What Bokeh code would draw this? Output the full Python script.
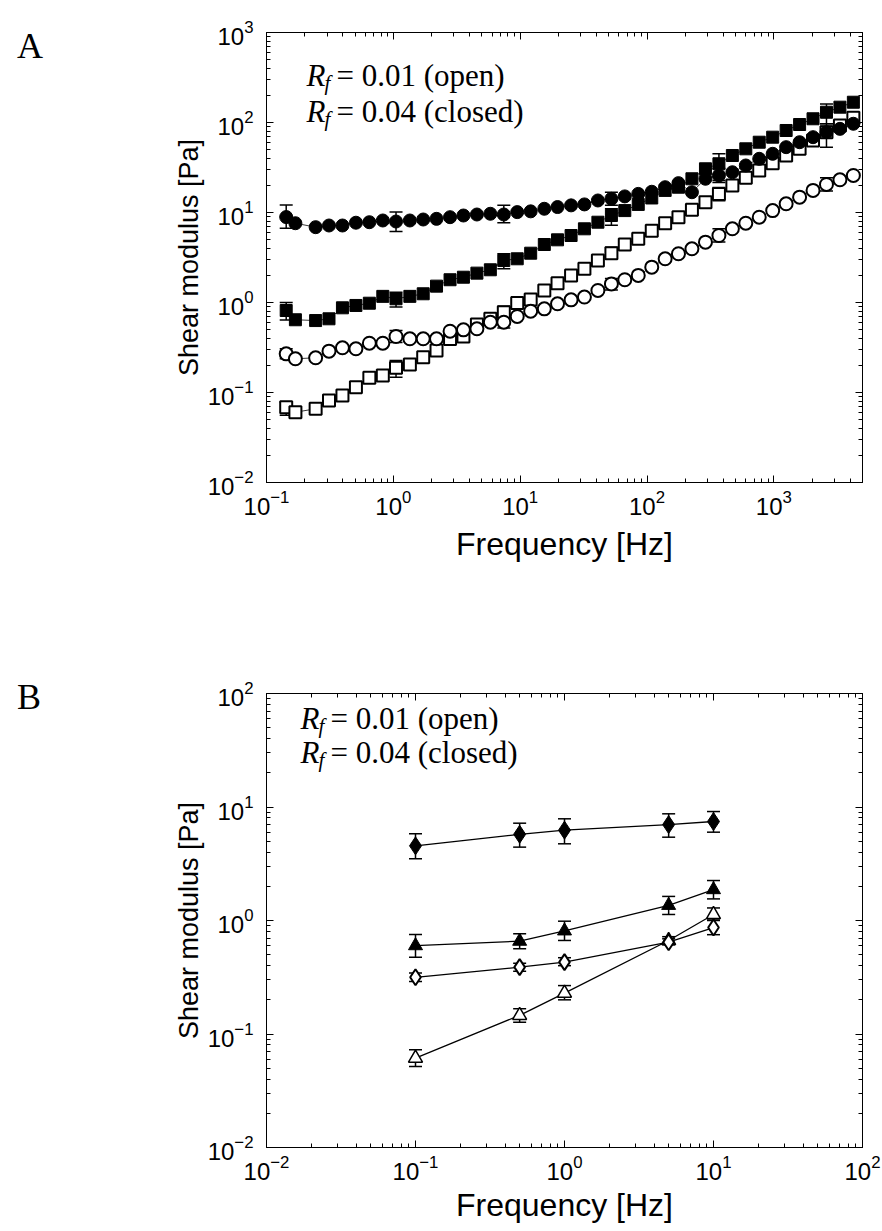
from bokeh.plotting import figure
from bokeh.models import (LogAxis, FixedTicker, Label, Whisker, TeeHead, ColumnDataSource, Range1d,
                          CustomJSTickFormatter, Div)
from bokeh.layouts import column, row
from bokeh.embed import file_html
from bokeh.resources import INLINE

# ---------------- Panel A data ----------------
freq_a = [0.143, 0.169, 0.244, 0.311, 0.397, 0.507, 0.647, 0.826, 1.05, 1.35, 1.72,
          2.19, 2.80, 3.57, 4.56, 5.82, 7.43, 9.48, 12.1, 15.5, 19.7, 25.2, 32.1,
          41.0, 52.4, 66.8, 85.3, 109, 139, 177, 226, 289, 369, 471, 601, 767, 979,
          1250, 1596, 2037, 2600, 3319, 4236]
closed_circle = [8.9, 7.6, 6.87, 7.17, 7.17, 7.7, 7.8, 8.15, 7.94, 8.15, 8.36, 8.5, 8.87,
                 9.26, 9.5, 9.68, 9.5, 10.1, 10.3, 11.0, 11.5, 12.0, 12.3, 13.6, 14.2,
                 15.1, 16.1, 17.0, 19.1, 21.2, 16.8, 23.7, 25.8, 28.0, 33.3, 39.5, 44.9,
                 53.2, 60.4, 68.7, 78, 85, 96.8]
closed_square = [0.815, 0.643, 0.63, 0.659, 0.873, 0.927, 0.982, 1.17, 1.10, 1.17, 1.25,
                 1.52, 1.79, 1.91, 2.12, 2.31, 2.93, 3.06, 3.53, 4.41, 4.97, 5.55, 6.59,
                 7.8, 9.26, 10.5, 12.3, 14.5, 17.6, 19.1, 23.7, 30.6, 34.8, 43, 51, 60.4,
                 68.7, 81.5, 95, 110, 130, 148, 168]
open_circle = [0.269, 0.237, 0.243, 0.288, 0.314, 0.306, 0.353, 0.353, 0.419, 0.395, 0.395,
               0.395, 0.48, 0.497, 0.51, 0.604, 0.604, 0.70, 0.80, 0.85, 0.968, 1.07, 1.15,
               1.36, 1.61, 1.79, 2.0, 2.47, 3.06, 3.48, 3.95, 4.68, 5.55, 6.59, 7.6, 8.87,
               10.5, 12.5, 14.8, 17.6, 20.5, 23.1, 25.8]
open_square = [0.0687, 0.0604, 0.0659, 0.0815, 0.0927, 0.1146, 0.146, 0.154, 0.188, 0.205,
               0.247, 0.293, 0.394, 0.42, 0.57, 0.66, 0.78, 0.99, 1.08, 1.36, 1.64, 2.0,
               2.37, 2.93, 3.53, 4.41, 5.1, 6.25, 7.6, 8.87, 10.7, 13.0, 16.1, 20, 24.3,
               29.3, 35.3, 43, 51, 63, 78, 92.6, 113]

# error bars (panel A) at every eighth point
err_idx_a = [0, 8, 16, 24, 32, 40]
closed_circle_lo = [6.7, 6.15, 7.7, 12.0, 21.6, 67]
closed_circle_hi = [12.1, 10.1, 12.0, 16.8, 30.9, 91]
closed_square_lo = [0.64, 0.89, 2.37, 7.2, 22.7, 97]
closed_square_hi = [1.0, 1.30, 3.48, 11.0, 44.9, 161]
open_circle_lo = [0.237, 0.36, 0.52, 1.38, 4.7, 17.3]
open_circle_hi = [0.306, 0.49, 0.70, 1.85, 6.6, 24.3]
open_square_lo = [0.056, 0.148, 0.67, 3.06, 13.5, 53]
open_square_hi = [0.078, 0.227, 0.91, 4.11, 19.0, 97]

# ---------------- Panel B data ----------------
freq_b = [0.1, 0.5, 1, 5, 10]
closed_diamond = [4.55, 5.75, 6.25, 7.0, 7.45]
closed_diamond_lo = [3.50, 4.43, 4.74, 5.42, 6.0]
closed_diamond_hi = [5.81, 7.2, 7.87, 8.71, 9.12]
closed_triangle = [0.60, 0.657, 0.81, 1.36, 1.87]
closed_triangle_lo = [0.475, 0.564, 0.667, 1.13, 1.55]
closed_triangle_hi = [0.754, 0.764, 0.986, 1.63, 2.25]
open_diamond = [0.316, 0.388, 0.43, 0.644, 0.867]
open_diamond_lo = [0.29, 0.357, 0.40, 0.61, 0.75]
open_diamond_hi = [0.344, 0.42, 0.47, 0.69, 1.0]
open_triangle = [0.0612, 0.146, 0.229, 0.667, 1.13]
open_triangle_lo = [0.0518, 0.127, 0.20, 0.62, 1.01]
open_triangle_hi = [0.0726, 0.167, 0.267, 0.72, 1.29]

x_label = "Frequency [Hz]"
y_label = "Shear modulus [Pa]"
legend_lines = ["= 0.01 (open)", "= 0.04 (closed)"]
panel_letters = ["A", "B"]

SANS = "Liberation Sans"
SERIF = "Liberation Serif"
DIV_W = 60


def decade_ticks(lo_exp, hi_exp):
    major = [10.0 ** e for e in range(lo_exp, hi_exp + 1)]
    minor = [m * 10.0 ** e for e in range(lo_exp, hi_exp + 1) for m in range(2, 10)]
    return major, minor


def make_fig(xr, yr, xexp, yexp, border_top, border_bottom, frame_h, xlab_standoff):
    p = figure(x_axis_type="log", y_axis_type="log",
               x_range=Range1d(*xr), y_range=Range1d(*yr),
               frame_width=596, frame_height=frame_h,
               min_border_left=266 - DIV_W, min_border_right=20,
               min_border_top=border_top, min_border_bottom=border_bottom,
               output_backend="svg", toolbar_location=None)
    hidden = CustomJSTickFormatter(code="return ''")
    p.add_layout(LogAxis(formatter=hidden), "right")
    p.add_layout(LogAxis(formatter=hidden), "above")
    p.grid.visible = False
    p.outline_line_color = "black"
    p.outline_line_width = 1
    p.background_fill_color = "white"
    p.border_fill_color = "white"
    xmaj, xmin = decade_ticks(*xexp)
    ymaj, ymin = decade_ticks(*yexp)
    for ax in p.xaxis:
        ax.ticker = FixedTicker(ticks=xmaj, minor_ticks=xmin)
    for ax in p.yaxis:
        ax.ticker = FixedTicker(ticks=ymaj, minor_ticks=ymin)
    for ax in p.axis:
        ax.major_tick_in = 7
        ax.major_tick_out = 0
        ax.minor_tick_in = 4
        ax.minor_tick_out = 0
        ax.major_tick_line_color = "black"
        ax.minor_tick_line_color = "black"
        ax.axis_line_color = "black"
        ax.major_label_text_font = SANS
        ax.major_label_text_font_size = "24px"
        ax.major_label_text_color = "black"
        ax.axis_label_text_font = SANS
        ax.axis_label_text_font_style = "normal"
        ax.axis_label_text_color = "black"
    for ax in p.right + p.above:
        ax.major_label_text_font_size = "2px"
        ax.major_label_standoff = 0
    p.below[0].axis_label = x_label
    p.below[0].axis_label_text_font_size = "32px"
    p.below[0].major_label_standoff = 7
    p.below[0].axis_label_standoff = xlab_standoff
    p.left[0].axis_label = y_label
    p.left[0].axis_label_text_font_size = "27px"
    p.left[0].major_label_standoff = 13
    p.left[0].axis_label_standoff = 1
    return p


def add_errors(p, xs, lo, hi, cap):
    src = ColumnDataSource(dict(x=xs, lo=lo, hi=hi))
    p.add_layout(Whisker(base="x", lower="lo", upper="hi", source=src, dimension="height",
                         line_color="black", line_width=1.5,
                         upper_head=TeeHead(size=cap, line_width=1.5, line_color="black"),
                         lower_head=TeeHead(size=cap, line_width=1.5, line_color="black")))


def add_legend(p, x, y0, dy):
    for i, txt in enumerate(legend_lines):
        y = y0 - i * dy
        p.add_layout(Label(x=x, y=y, x_units="screen", y_units="screen", text="R",
                           text_font=SERIF, text_font_style="italic", text_font_size="31px",
                           text_baseline="alphabetic", text_color="black"))
        p.add_layout(Label(x=x + 18, y=y - 7, x_units="screen", y_units="screen", text="f",
                           text_font=SERIF, text_font_style="italic", text_font_size="21px",
                           text_baseline="alphabetic", text_color="black"))
        p.add_layout(Label(x=x + 30, y=y, x_units="screen", y_units="screen", text=txt,
                           text_font=SERIF, text_font_size="31px",
                           text_baseline="alphabetic", text_color="black"))


def letter_div(letter, height, top):
    html = ('<div style="font-family: \'Liberation Serif\'; font-size: 36px; line-height: 36px; '
            'color: black; margin: %dpx 0 0 17px; padding: 0;">%s</div>' % (top, letter))
    return Div(text=html, width=DIV_W, height=height, margin=0,
               styles={"background-color": "white"})


# ---------------- Panel A ----------------
pa = make_fig((0.1, 5000), (0.01, 1000), (-1, 3), (-2, 3), 32, 138, 450, 8)
line_c = "#3a3a3a"
for ys in [closed_circle, closed_square, open_circle, open_square]:
    pa.line(freq_a, ys, line_color=line_c, line_width=1)

for ys, lo, hi in [(closed_circle, closed_circle_lo, closed_circle_hi),
                   (closed_square, closed_square_lo, closed_square_hi),
                   (open_circle, open_circle_lo, open_circle_hi),
                   (open_square, open_square_lo, open_square_hi)]:
    add_errors(pa, [freq_a[i] for i in err_idx_a], lo, hi, 13)

pa.scatter(freq_a, open_square, marker="square", size=12, fill_color="white",
           line_color="black", line_width=2)
pa.scatter(freq_a, open_circle, marker="circle", size=13, fill_color="white",
           line_color="black", line_width=2)
pa.scatter(freq_a, closed_square, marker="square", size=12, fill_color="black",
           line_color="black", line_width=1)
pa.scatter(freq_a, closed_circle, marker="circle", size=13, fill_color="black",
           line_color="black", line_width=1)

add_legend(pa, 40, 407, 36)

# ---------------- Panel B ----------------
pb = make_fig((0.01, 100), (0.01, 100), (-2, 2), (-2, 2), 73, 84, 454, 4)
for ys in [closed_diamond, closed_triangle, open_diamond, open_triangle]:
    pb.line(freq_b, ys, line_color="black", line_width=1.3)

for ys, lo, hi in [(closed_diamond, closed_diamond_lo, closed_diamond_hi),
                   (closed_triangle, closed_triangle_lo, closed_triangle_hi),
                   (open_diamond, open_diamond_lo, open_diamond_hi),
                   (open_triangle, open_triangle_lo, open_triangle_hi)]:
    add_errors(pb, freq_b, lo, hi, 13)

pb.scatter(freq_b, open_triangle, marker="triangle", size=14, fill_color="white",
           line_color="black", line_width=1.5)
pb.scatter(freq_b, open_diamond, marker="diamond", size=16, fill_color="white",
           line_color="black", line_width=2)
pb.scatter(freq_b, closed_triangle, marker="triangle", size=14, fill_color="black",
           line_color="black", line_width=1)
pb.scatter(freq_b, closed_diamond, marker="diamond", size=18, fill_color="black",
           line_color="black", line_width=1)

add_legend(pb, 34, 429, 34)

layout = column(row(letter_div(panel_letters[0], 620, 28), pa, spacing=0),
                row(letter_div(panel_letters[1], 611, 59), pb, spacing=0),
                spacing=0)
open("out.html", "w").write(file_html(layout, INLINE))
